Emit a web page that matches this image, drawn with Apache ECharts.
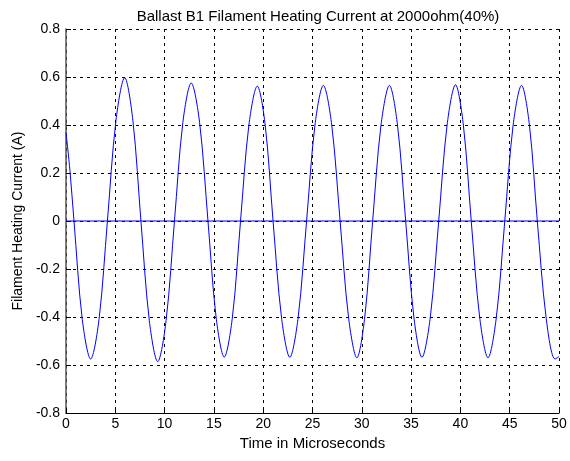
<!DOCTYPE html>
<html>
<head>
<meta charset="utf-8">
<script src="https://cdn.jsdelivr.net/npm/echarts@6/dist/echarts.min.js"></script>
<style>
html,body{margin:0;padding:0;background:#fff;}
#chart{width:570px;height:461px;}
</style>
</head>
<body>
<div id="chart"></div>
<script>
var titleText = 'Ballast B1 Filament Heating Current at 2000ohm(40%)';
var xName = 'Time in Microseconds';
var yName = 'Filament Heating Current (A)';
var xTickLabels = ['0','5','10','15','20','25','30','35','40','45','50'];
var yTickLabels = ['-0.8','-0.6','-0.4','-0.2','0','0.2','0.4','0.6','0.8'];

var timeUs = [
  0, 0.4, 0.81, 1.65, 2.5, 3.35, 4.2, 5.07, 5.95, 6.78,
  7.6, 8.45, 9.3, 10.15, 11.0, 11.85, 12.7, 13.55, 14.4, 15.22,
  16.05, 16.88, 17.7, 18.55, 19.4, 20.2, 21.0, 21.85, 22.7, 23.55,
  24.4, 25.25, 26.1, 26.95, 27.8, 28.65, 29.5, 30.3, 31.1, 31.95,
  32.8, 33.62, 34.45, 35.28, 36.1, 36.95, 37.8, 38.65, 39.5, 40.3,
  41.1, 41.95, 42.8, 43.65, 44.5, 45.35, 46.2, 47.0, 47.8, 48.7,
  49.6, 50
];
var currentA = [
  0.37, 0.21, 0, -0.41, -0.575, -0.41, 0, 0.42, 0.597, 0.42,
  0, -0.415, -0.586, -0.415, 0, 0.41, 0.575, 0.41, 0, -0.40,
  -0.567, -0.40, 0, 0.40, 0.562, 0.40, 0, -0.40, -0.568, -0.40,
  0, 0.40, 0.565, 0.40, 0, -0.40, -0.57, -0.40, 0, 0.40,
  0.565, 0.40, 0, -0.40, -0.568, -0.40, 0, 0.40, 0.568, 0.40,
  0, -0.40, -0.57, -0.40, 0, 0.40, 0.565, 0.40, 0, -0.405,
  -0.575, -0.565
];
var zeroLineT = [0, 50];
var zeroLineV = [0, 0];

var wave = timeUs.map(function (t, i) { return [t, currentA[i]]; });
var zero = zeroLineT.map(function (t, i) { return [t, zeroLineV[i]]; });

var font = '"Liberation Sans", Arial, sans-serif';
var chart = echarts.init(document.getElementById('chart'), null, {renderer: 'canvas'});
chart.setOption({
  animation: false,
  backgroundColor: '#ffffff',
  title: {
    text: titleText,
    left: 313, top: 4, textAlign: 'center',
    textStyle: {fontFamily: font, fontSize: 15, fontWeight: 'normal', color: '#000'}
  },
  grid: {left: 66, right: 11, top: 29, bottom: 48, containLabel: false},
  xAxis: {
    type: 'value', min: 0, max: 50, interval: 5,
    name: xName, nameLocation: 'middle', nameGap: 23,
    nameTextStyle: {fontFamily: font, fontSize: 15, color: '#000'},
    axisLine: {show: true, onZero: false, lineStyle: {color: '#000', width: 1}},
    axisTick: {show: true, inside: true, length: 5, lineStyle: {color: '#000'}},
    axisLabel: {fontFamily: font, fontSize: 14, color: '#000', margin: 4,
      formatter: function (v) { return xTickLabels[Math.round(v / 5)]; }},
    splitLine: {show: true, lineStyle: {color: '#000', type: [3, 4], width: 1}}
  },
  yAxis: {
    type: 'value', min: -0.8, max: 0.8, interval: 0.2,
    name: yName, nameLocation: 'middle', nameGap: 41,
    nameTextStyle: {fontFamily: font, fontSize: 14, color: '#000'},
    axisLine: {show: true, onZero: false, lineStyle: {color: '#555', width: 1.5}},
    axisTick: {show: true, inside: true, length: 5, lineStyle: {color: '#000'}},
    axisLabel: {fontFamily: font, fontSize: 14, color: '#000', margin: 6,
      formatter: function (v) { return yTickLabels[Math.round((v + 0.8) / 0.2)]; }},
    splitLine: {show: true, lineStyle: {color: '#000', type: [3, 4], width: 1}}
  },
  series: [
    {type: 'line', data: wave, smooth: 0.33, showSymbol: false,
      lineStyle: {color: '#0000ff', width: 1}, z: 3},
    {type: 'line', data: zero, showSymbol: false,
      lineStyle: {color: '#0000ff', width: 1}, z: 3}
  ]
});
</script>
</body>
</html>
